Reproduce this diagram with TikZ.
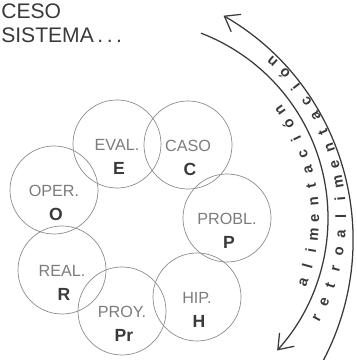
\documentclass[tikz,border=0pt]{standalone}
\usepackage{fontspec}
\setmainfont{Liberation Sans}
\usetikzlibrary{arrows.meta}
\definecolor{PencilGray}{HTML}{8C8C8C}
\definecolor{TagGray}{HTML}{7C7C7C}
\definecolor{InkGray}{HTML}{3A3A3A}

\begin{document}
\begin{tikzpicture}[x=0.025cm,y=0.025cm,
  ring/.style={circle,draw=PencilGray,line width=.5pt,minimum size=2.2cm,inner sep=0pt},
  tag/.style={text=TagGray,font=\fontsize{11.5}{13}\selectfont,inner sep=0pt},
  letter/.style={text=InkGray,font=\fontsize{12.5}{14}\selectfont\bfseries,inner sep=0pt},
  loop/.style={InkGray,line width=.9pt,-{Straight Barb[length=3.4mm,width=5mm]}},
  arcchar/.style={text=InkGray,font=\fontsize{10.5}{12}\selectfont\bfseries,inner sep=0pt,anchor=base}]
  \clip (0,0) rectangle (356,360);

  % title at the top left
  \node[anchor=west,inner sep=0pt,text=InkGray,font=\fontsize{15}{17}\selectfont] (ceso) at (1,349) {CESO};
  \node[anchor=west,inner sep=0pt,text=InkGray,font=\fontsize{15}{17}\selectfont] (sistema) at (1,325) {SISTEMA\,.\,.\,.};

  % the seven stages
  \foreach \n/\x/\y/\t/\l in {eval/117/216/EVAL./E, caso/188/215/CASO/C,
                              probl/227/142/PROBL./P, hip/197/63/HIP./H,
                              proy/122/49/PROY./Pr, real/62/90/REAL./R,
                              oper/54/170/OPER./O}{
    \node[ring] (\n) at (\x,\y) {};
    \node[tag] (\n-tag) at (\x,\y-1) {\t};
    \node[letter] (\n-let) at (\x+2,\y-24) {\l};
  }

  % feedback arcs
  \draw[loop] (130,142) ++(69:198) arc[start angle=69,end angle=-42,radius=198];
  \draw[loop] (94,120) ++(-30:259) arc[start angle=-30,end angle=60,radius=259];

  % lettering along the arcs
  \foreach \ch [count=\i, evaluate=\i as \a using {-20.3+(\i-1)*5.08}] in {a,l,i,m,e,n,t,a,c,i,ó,n}
    \path (130,142) ++(\a:189) node[arcchar,rotate=\a+90] {\ch};
  \foreach \ch [count=\i, evaluate=\i as \a using {-28.1+(\i-1)*4.74}] in {r,e,t,r,o,a,l,i,m,e,n,t,a,c,i,ó,n}
    \path (130,142) ++(\a:216) node[arcchar,rotate=\a+90] {\ch};
\end{tikzpicture}
\end{document}
